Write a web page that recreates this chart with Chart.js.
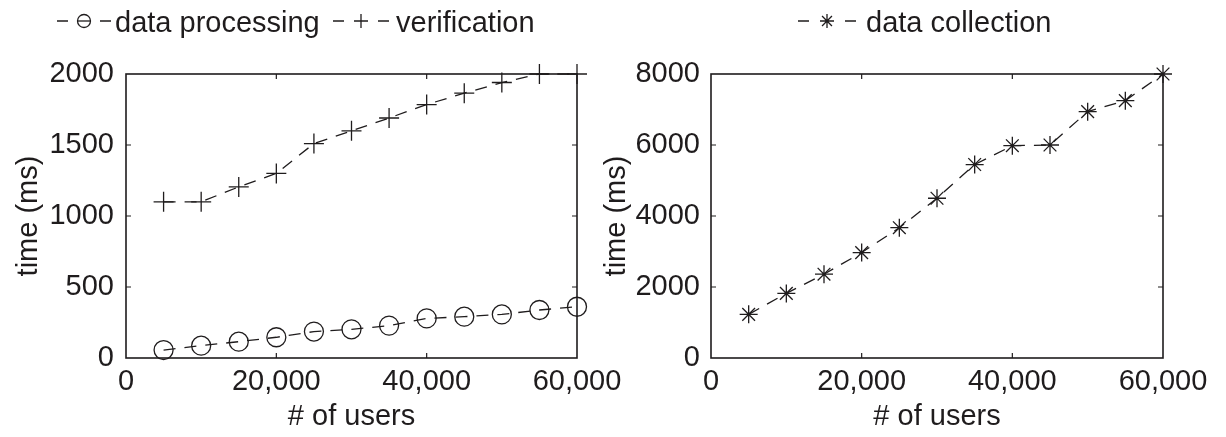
<!DOCTYPE html>
<html>
<head>
<meta charset="utf-8">
<script src="https://cdn.jsdelivr.net/npm/chart.js@4.4.0/dist/chart.umd.min.js"></script>
<style>
  html, body { margin: 0; padding: 0; background: #fff; }
  #wrap { position: relative; width: 1226px; height: 437px; overflow: hidden; }
  .box { position: absolute; top: 0; height: 437px; }
  #left { left: 0; width: 640px; }
  #right { left: 595px; width: 631px; }
</style>
</head>
<body>
<div id="wrap">
  <div class="box" id="left"><canvas id="leftChart"></canvas></div>
  <div class="box" id="right"><canvas id="rightChart"></canvas></div>
</div>
<script>
// data
const users = [5000, 10000, 15000, 20000, 25000, 30000, 35000, 40000, 45000, 50000, 55000, 60000];
const processingMs = [56, 87, 115, 146, 186, 202, 228, 279, 291, 307, 338, 361];
const verificationMs = [1100, 1100, 1205, 1300, 1510, 1600, 1690, 1785, 1865, 1940, 2000, 2000];
const collectionMs = [1230, 1820, 2360, 2970, 3670, 4500, 5450, 5980, 6000, 6940, 7250, 8000];

const userTicks = [0, 20000, 40000, 60000];
const leftTimeTicks = [0, 500, 1000, 1500, 2000];
const rightTimeTicks = [0, 2000, 4000, 6000, 8000];

const INK = '#1f1c1d';
const FONT = { family: '"Liberation Sans", Arial, Helvetica, sans-serif', size: 29 };

Chart.defaults.font.family = FONT.family;
Chart.defaults.color = INK;

// matlab-like frame: full box plus short ticks pointing inwards
const matlabBox = {
  id: 'matlabBox',
  beforeDatasetsDraw(chart) {
    const { ctx, chartArea: a, scales } = chart;
    ctx.save();
    ctx.strokeStyle = INK;
    ctx.lineWidth = 1.6;
    ctx.strokeRect(a.left, a.top, a.right - a.left, a.bottom - a.top);
    ctx.lineWidth = 1.2;
    const len = 5;
    ctx.beginPath();
    scales.x.ticks.forEach(t => {
      const px = scales.x.getPixelForValue(t.value);
      if (px <= a.left + 1 || px >= a.right - 1) return;
      ctx.moveTo(px, a.bottom); ctx.lineTo(px, a.bottom - len);
      ctx.moveTo(px, a.top); ctx.lineTo(px, a.top + len);
    });
    scales.y.ticks.forEach(t => {
      const py = scales.y.getPixelForValue(t.value);
      if (py <= a.top + 1 || py >= a.bottom - 1) return;
      ctx.moveTo(a.left, py); ctx.lineTo(a.left + len, py);
      ctx.moveTo(a.right, py); ctx.lineTo(a.right - len, py);
    });
    ctx.stroke();
    ctx.restore();
  }
};

// legend drawn as "- marker - label" like the original
const lineLegend = {
  id: 'lineLegend',
  afterDraw(chart, args, opts) {
    const { ctx } = chart;
    ctx.save();
    ctx.font = FONT.size + 'px ' + FONT.family;
    ctx.textBaseline = 'alphabetic';
    chart.data.datasets.forEach((ds, i) => {
      const it = opts.items[i];
      const y = opts.y;
      const cx = it.x + it.w / 2;
      ctx.strokeStyle = INK;
      ctx.lineWidth = 1.3;
      ctx.setLineDash([]);
      ctx.beginPath();
      ctx.moveTo(it.x, y); ctx.lineTo(it.x + 11, y);
      ctx.moveTo(it.x + it.w - 11, y); ctx.lineTo(it.x + it.w, y);
      ctx.stroke();
      ctx.fillStyle = 'rgba(0,0,0,0)';
      Chart.helpers.drawPoint(ctx, {
        pointStyle: ds.pointStyle, radius: it.r, borderWidth: 1.3
      }, cx, y);
      if (ds.pointStyle === 'circle') {
        ctx.beginPath();
        ctx.moveTo(cx - it.r, y); ctx.lineTo(cx + it.r, y);
        ctx.stroke();
      }
      ctx.fillStyle = INK;
      ctx.fillText(ds.label, it.tx, opts.base);
    });
    ctx.restore();
  }
};

function series(label, values, style, radius) {
  return {
    label: label,
    data: users.map((u, i) => ({ x: u, y: values[i] })),
    borderColor: INK,
    borderWidth: 1.3,
    borderDash: [12, 9],
    pointStyle: style,
    pointRadius: radius,
    pointBorderWidth: 1.3,
    pointBorderColor: INK,
    pointBackgroundColor: 'rgba(0,0,0,0)',
    fill: false,
    tension: 0,
    clip: false
  };
}

function makeOptions(yTicks, yWidth, yTitlePad, yTickPad, legend) {
  return {
    responsive: true,
    maintainAspectRatio: false,
    animation: false,
    events: [],
    layout: { padding: { top: 74, right: 63, left: 0, bottom: 0 } },
    plugins: {
      legend: { display: false },
      tooltip: { enabled: false },
      lineLegend: legend
    },
    scales: {
      x: {
        type: 'linear',
        min: 0, max: 60000,
        afterBuildTicks: s => { s.ticks = userTicks.map(v => ({ value: v })); },
        afterFit: s => { s.height = 79; s.paddingLeft = 0; s.paddingRight = 0; },
        grid: { display: false, drawTicks: false },
        border: { display: false },
        ticks: {
          padding: 7,
          font: FONT, color: INK,
          maxRotation: 0,
          callback: v => v.toLocaleString('en-US')
        },
        title: { display: true, text: '# of users', font: FONT, color: INK, padding: { top: 0, bottom: 3 } }
      },
      y: {
        type: 'linear',
        min: 0, max: yTicks[yTicks.length - 1],
        afterBuildTicks: s => { s.ticks = yTicks.map(v => ({ value: v })); },
        afterFit: s => { s.width = yWidth; },
        grid: { display: false, drawTicks: false },
        border: { display: false },
        ticks: { padding: yTickPad, font: FONT, color: INK, callback: v => String(v) },
        title: { display: true, text: 'time (ms)', font: FONT, color: INK, padding: { top: yTitlePad, bottom: 0 } }
      }
    }
  };
}

new Chart(document.getElementById('leftChart'), {
  type: 'line',
  data: {
    datasets: [
      series('data processing', processingMs, 'circle', 9.5),
      series('verification', verificationMs, 'cross', 10)
    ]
  },
  options: makeOptions(leftTimeTicks, 126, 12, 12, {
    y: 21, base: 32,
    items: [
      { x: 57, w: 54, r: 6.5, tx: 115 },
      { x: 333, w: 56, r: 7, tx: 396 }
    ]
  }),
  plugins: [matlabBox, lineLegend]
});

new Chart(document.getElementById('rightChart'), {
  type: 'line',
  data: {
    datasets: [
      series('data collection', collectionMs, 'star', 9)
    ]
  },
  options: makeOptions(rightTimeTicks, 116, 5, 11, {
    y: 21, base: 32,
    items: [
      { x: 798 - 595, w: 58, r: 7, tx: 866 - 595 }
    ]
  }),
  plugins: [matlabBox, lineLegend]
});
</script>
</body>
</html>
